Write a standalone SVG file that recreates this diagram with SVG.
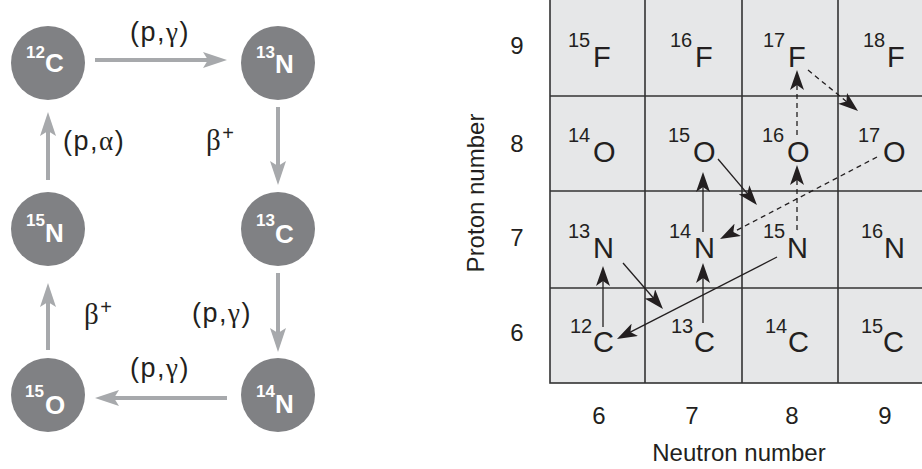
<svg xmlns="http://www.w3.org/2000/svg" width="922" height="469" viewBox="0 0 922 469">
<style>
.circ{fill:#808184}
.cl{font-family:"Liberation Sans",Arial,sans-serif;font-weight:bold;fill:#fff}
.cs{font-size:17px}
.cm{font-size:26px}
.lab{font-family:"Liberation Sans",Arial,sans-serif;font-size:27px;letter-spacing:1.5px;fill:#231f20}
.gk{font-family:"Liberation Serif","DejaVu Serif",serif}
.garr{stroke:#a7a9ac;stroke-width:4;fill:none;marker-end:url(#gh)}
.barr{stroke:#231f20;stroke-width:1.3;fill:none;marker-end:url(#bh)}
.dash{stroke-dasharray:5,4}
.grid{stroke:#333;stroke-width:1.6;fill:none}
.iso{font-family:"Liberation Sans",Arial,sans-serif;fill:#231f20}
.is{font-size:20px}
.im{font-size:29px}
.ax{font-family:"Liberation Sans",Arial,sans-serif;font-size:24px;fill:#231f20}
</style>
<defs>
<marker id="gh" viewBox="0 0 24 16" markerWidth="24" markerHeight="16" refX="12" refY="8" orient="auto" markerUnits="userSpaceOnUse">
<path d="M0,0 L24,8 L0,16 L5,8 z" fill="#a7a9ac"/>
</marker>
<marker id="bh" viewBox="0 0 20 14" markerWidth="20" markerHeight="14" refX="10" refY="7" orient="auto" markerUnits="userSpaceOnUse">
<path d="M0,0 L20,7 L0,14 L5,7 z" fill="#231f20"/>
</marker>
</defs>

<!-- Left: CNO cycle -->
<g id="connectors-cycle">
<line class="garr" x1="95" y1="60" x2="215" y2="60"/>
<line class="garr" x1="278" y1="107" x2="278" y2="173"/>
<line class="garr" x1="278" y1="273" x2="278" y2="340"/>
<line class="garr" x1="227" y1="398" x2="107" y2="398"/>
<line class="garr" x1="48" y1="350" x2="48" y2="295"/>
<line class="garr" x1="48" y1="180" x2="48" y2="124"/>
</g>
<g id="cycle-labels">
<text class="lab" x="130" y="41">(p,<tspan class="gk">γ</tspan>)</text>
<text class="lab" x="63" y="150">(p,<tspan class="gk">α</tspan>)</text>
<text class="lab" x="206" y="150"><tspan class="gk" font-size="29">β</tspan><tspan font-size="20" dy="-10">+</tspan></text>
<text class="lab" x="84" y="324"><tspan class="gk" font-size="29">β</tspan><tspan font-size="20" dy="-10">+</tspan></text>
<text class="lab" x="192" y="322">(p,<tspan class="gk">γ</tspan>)</text>
<text class="lab" x="130" y="377">(p,<tspan class="gk">γ</tspan>)</text>
</g>
<g id="c12">
<circle class="circ" cx="48" cy="63" r="37"/>
<text class="cl"><tspan class="cs" x="26" y="58">12</tspan><tspan class="cm" x="45" y="72">C</tspan></text>
</g>
<g id="n13">
<circle class="circ" cx="278" cy="63" r="37"/>
<text class="cl"><tspan class="cs" x="256" y="58">13</tspan><tspan class="cm" x="275" y="73">N</tspan></text>
</g>
<g id="n15">
<circle class="circ" cx="48" cy="229" r="37"/>
<text class="cl"><tspan class="cs" x="26" y="226">15</tspan><tspan class="cm" x="45" y="242">N</tspan></text>
</g>
<g id="c13">
<circle class="circ" cx="278" cy="229" r="37"/>
<text class="cl"><tspan class="cs" x="256" y="226">13</tspan><tspan class="cm" x="275" y="243">C</tspan></text>
</g>
<g id="o15">
<circle class="circ" cx="48" cy="395" r="37"/>
<text class="cl"><tspan class="cs" x="25" y="397">15</tspan><tspan class="cm" x="45" y="414">O</tspan></text>
</g>
<g id="n14">
<circle class="circ" cx="278" cy="395" r="37"/>
<text class="cl"><tspan class="cs" x="256" y="397">14</tspan><tspan class="cm" x="275" y="413">N</tspan></text>
</g>

<!-- Right: chart of nuclides -->
<g id="grid">
<rect x="550" y="-5" width="390" height="388" fill="#e6e7e8" stroke="#333" stroke-width="1.6"/>
<line class="grid" x1="550" y1="96" x2="940" y2="96"/>
<line class="grid" x1="550" y1="191" x2="940" y2="191"/>
<line class="grid" x1="550" y1="288" x2="940" y2="288"/>
<line class="grid" x1="645" y1="-5" x2="645" y2="383"/>
<line class="grid" x1="742" y1="-5" x2="742" y2="383"/>
<line class="grid" x1="838" y1="-5" x2="838" y2="383"/>
</g>
<g id="axes">
<text class="ax" x="517" y="54" text-anchor="middle">9</text>
<text class="ax" x="517" y="152" text-anchor="middle">8</text>
<text class="ax" x="517" y="246" text-anchor="middle">7</text>
<text class="ax" x="517" y="341" text-anchor="middle">6</text>
<text class="ax" x="599" y="424" text-anchor="middle">6</text>
<text class="ax" x="692" y="424" text-anchor="middle">7</text>
<text class="ax" x="792" y="424" text-anchor="middle">8</text>
<text class="ax" x="885" y="424" text-anchor="middle">9</text>
<text class="ax" x="739" y="461" text-anchor="middle" font-size="25">Neutron number</text>
<text class="ax" transform="translate(484,193) rotate(-90)" text-anchor="middle" font-size="25">Proton number</text>
</g>
<g id="f15"><text class="iso is" x="568" y="47">15</text><text class="iso im" x="593" y="67">F</text></g>
<g id="f16"><text class="iso is" x="670" y="47">16</text><text class="iso im" x="695" y="67">F</text></g>
<g id="f17"><text class="iso is" x="763" y="47">17</text><text class="iso im" x="788" y="67">F</text></g>
<g id="f18"><text class="iso is" x="863" y="47">18</text><text class="iso im" x="887" y="67">F</text></g>
<g id="o14"><text class="iso is" x="568" y="142">14</text><text class="iso im" x="593" y="162">O</text></g>
<g id="o15g"><text class="iso is" x="668" y="142">15</text><text class="iso im" x="693" y="162">O</text></g>
<g id="o16"><text class="iso is" x="762" y="142">16</text><text class="iso im" x="787" y="162">O</text></g>
<g id="o17"><text class="iso is" x="858" y="142">17</text><text class="iso im" x="883" y="162">O</text></g>
<g id="n13g"><text class="iso is" x="568" y="238">13</text><text class="iso im" x="593" y="258">N</text></g>
<g id="n14g"><text class="iso is" x="669" y="238">14</text><text class="iso im" x="694" y="258">N</text></g>
<g id="n15g"><text class="iso is" x="763" y="238">15</text><text class="iso im" x="787" y="258">N</text></g>
<g id="n16"><text class="iso is" x="861" y="238">16</text><text class="iso im" x="884" y="258">N</text></g>
<g id="c12g"><text class="iso is" x="570" y="333">12</text><text class="iso im" x="593" y="352">C</text></g>
<g id="c13g"><text class="iso is" x="671" y="333">13</text><text class="iso im" x="694" y="352">C</text></g>
<g id="c14"><text class="iso is" x="765" y="333">14</text><text class="iso im" x="788" y="352">C</text></g>
<g id="c15"><text class="iso is" x="861" y="333">15</text><text class="iso im" x="883" y="352">C</text></g>

<g id="connectors-chart">
<line class="barr" x1="603" y1="327" x2="603" y2="276"/>
<line class="barr" x1="623" y1="263" x2="656.4" y2="301.5"/>
<line class="barr" x1="703" y1="323" x2="703" y2="273"/>
<line class="barr" x1="703" y1="232" x2="703" y2="182"/>
<line class="barr" x1="718" y1="159" x2="750.5" y2="197.4"/>
<line class="barr" x1="777" y1="257" x2="625.9" y2="334.4"/>
<line class="barr dash" x1="797" y1="230" x2="797" y2="175"/>
<line class="barr dash" x1="797" y1="135" x2="797" y2="80"/>
<line class="barr dash" x1="808" y1="70" x2="850.3" y2="104.7"/>
<line class="barr dash" x1="877" y1="157" x2="728.9" y2="234.4"/>
</g>
</svg>
